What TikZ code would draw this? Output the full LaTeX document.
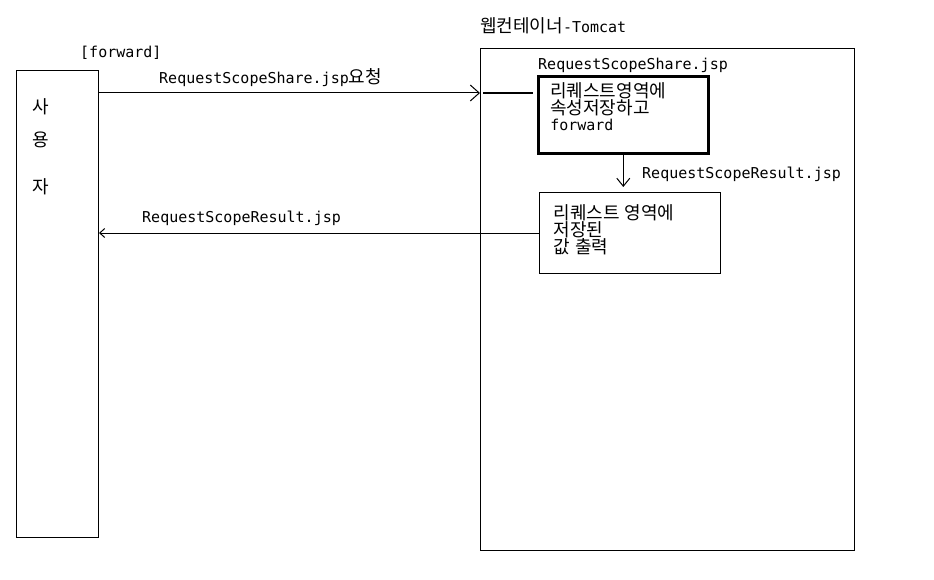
\documentclass[tikz,border=0pt]{standalone}
\usepackage{fontspec}
\setmainfont{DejaVu Sans Mono}
\newfontfamily\kr[Scale=1.2]{Noto Sans CJK KR}
\usepackage{tikz}
\usetikzlibrary{arrows.meta}

\begin{document}
\begin{tikzpicture}[x=1pt,y=-1pt,font=\fontsize{15}{16}\selectfont,
  lbl/.style={anchor=west,inner sep=0pt},
  box/.style={draw,line width=1pt,anchor=north west,inner sep=0pt},
  arr/.style={line width=1pt,-{Straight Barb[length=9pt,width=16pt]}}]
 \useasboundingbox (0,0) rectangle (934,580);
  % user and web container
  \node[box,minimum width=82pt,minimum height=467pt] (user) at (16,70) {};
  \node[box,minimum width=374pt,minimum height=502pt] (was) at (480,48) {};
  \node (u1) at (41,107) {\kr 사};
  \node (u2) at (41,140) {\kr 용};
  \node (u3) at (41,187) {\kr 자};
  \node[lbl] (fwd) at (80,53) {[forward]};
  \node[lbl] (wasname) at (480,26) {{\kr 웹컨테이너}-Tomcat};

  % jsp boxes
  \node[box,line width=2.6pt,minimum width=170pt,minimum height=77pt,
        text width=146pt,inner xsep=12pt,align=left] (share) at (537,75)
        {{\kr 리퀘스트영역에}\\{\kr 속성저장하고}\\forward\\[0pt]\mbox{}};
  \node[box,minimum width=181pt,minimum height=81pt,
        text width=153pt,inner xsep=14pt,align=left] (result) at (539,192)
        {{\kr 리퀘스트 영역에}\\{\kr 저장된}\\{\kr 값 출력}\\[-8pt]\mbox{}};
  \node[lbl] (sharename) at (538,65) {RequestScopeShare.jsp};
  \node[lbl] (resultname) at (642,174) {RequestScopeResult.jsp};

  % request and forward
  \coordinate (in) at (480,93);
  \coordinate (into) at (533,93);
  \draw[arr] (user.east |- in) -- (in);
  \node[lbl] (req) at (159,78) {RequestScopeShare.jsp{\kr 요청}};
  \draw[line width=2pt] ([xshift=3pt]in) -- (into);
  \draw[arr,-{Straight Barb[length=8pt,width=13pt]},shorten >=5pt] (share.south) -- (share.south |- result.north);

  % response
  \draw[line width=1pt,-{Straight Barb[length=5pt,width=9pt]}] (result.west) -- (user.east |- result.west);
  \node[lbl] (resp) at (142,218) {RequestScopeResult.jsp};
\end{tikzpicture}
\end{document}
